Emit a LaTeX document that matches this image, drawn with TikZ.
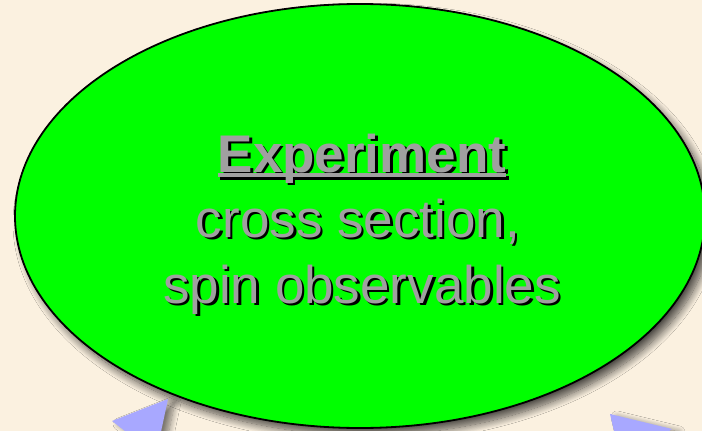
\documentclass[tikz,border=0pt]{standalone}
\usepackage{fontspec}
\setmainfont{Liberation Sans}
\usetikzlibrary{shapes.geometric,shadows.blur}
\definecolor{bg}{RGB}{251,241,224}
\definecolor{txtgray}{RGB}{160,160,160}
\definecolor{arrowblue}{RGB}{168,168,255}
\newcommand\myul[1]{\setbox0\hbox{#1}\rlap{\rule[-5pt]{\wd0}{4pt}}\box0}
\newcommand\shtxt[1]{\rlap{\hspace{2.5pt}\raisebox{-2.5pt}{\color{black}#1}}{\color{txtgray}#1}}
\begin{document}
\begin{tikzpicture}[x=1pt,y=-1pt,
  lbl/.style={anchor=base,inner sep=0pt,font=\fontsize{53}{60}\selectfont},
  bigell/.style={ellipse,draw=black,line width=1.8pt,fill=green,inner sep=0pt,
    minimum width=690pt,minimum height=424pt,
    blur shadow={shadow xshift=6pt,shadow yshift=-7pt,shadow blur radius=8pt,shadow blur steps=14,shadow opacity=70}},
  arrowhd/.style={fill=arrowblue,draw=none,
    blur shadow={shadow xshift=7pt,shadow yshift=-3pt,shadow blur radius=6pt,shadow blur steps=10,shadow opacity=50}}]
\fill[bg] (0,0) rectangle (702,431);
\useasboundingbox (0,0) rectangle (702,431);
\node[bigell] (exp) at (360,216) {};
\coordinate (lt) at (168,399);
\coordinate (rt) at (610,414);
\fill[arrowhd] (lt) -- (112,421) -- (156,455) -- cycle;
\fill[arrowhd] (rt) -- (672,429) -- (622,465) -- cycle;
\node[lbl] (t1) at (362,172) {\bfseries\shtxt{\myul{Experiment}}};
\node[lbl] (t2) at (358,237) {\shtxt{cross section,}};
\node[lbl] (t3) at (362,303) {\shtxt{spin observables}};
\end{tikzpicture}
\end{document}
